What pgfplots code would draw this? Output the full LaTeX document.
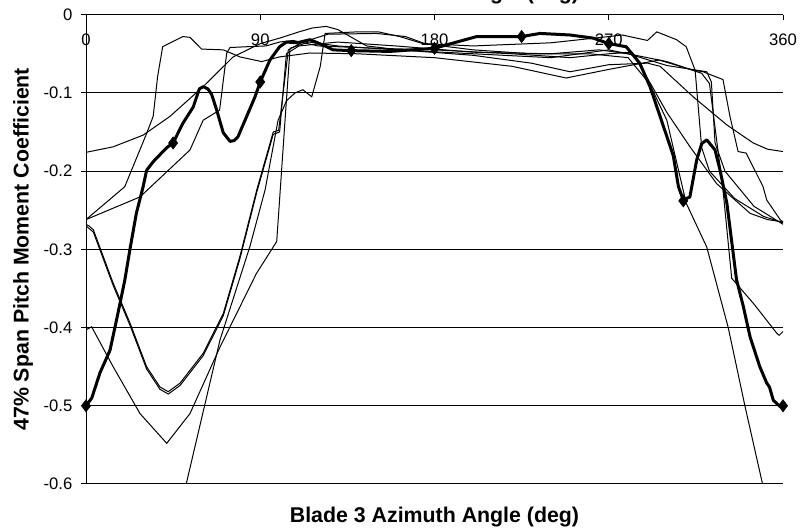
\documentclass[border=0pt]{standalone}
\usepackage{fontspec}
\setmainfont{Liberation Sans}
\usepackage{pgfplots}
\pgfplotsset{compat=1.18}
\begin{document}
\begin{tikzpicture}
\begin{axis}[
  scale only axis,
  width=522.75pt, height=352pt,
  xmin=0, xmax=360, ymin=-0.6, ymax=0,
  axis x line*=top, axis y line*=left,
  axis line style={-, line width=0.75pt},
  xtick={0,90,180,270,360},
  xticklabels={0,90,180,270,360},
  ytick={-0.6,-0.5,-0.4,-0.3,-0.2,-0.1,0},
  yticklabels={-0.6,-0.5,-0.4,-0.3,-0.2,-0.1,0},
  xtick align=inside, ytick align=outside,
  major tick length=3.75pt,
  tick style={black, line width=0.75pt},
  ymajorgrids, grid style={black, line width=0.75pt},
  tick label style={font=\fontsize{12.5}{14}\selectfont},
  xticklabel style={anchor=north, yshift=-10.5pt},
  yticklabel style={xshift=-3pt},
  xlabel={Blade 3 Azimuth Angle (deg)},
  xlabel style={at={(axis description cs:0.5,0)}, anchor=center, yshift=-24.75pt,
    font=\bfseries\fontsize{16}{19}\selectfont},
  ylabel={47\% Span Pitch Moment Coefficient},
  ylabel style={at={(axis description cs:-0.0904,0.5)}, anchor=center,
    font=\bfseries\fontsize{16}{19}\selectfont},
]
% curve A
\addplot[black, line width=0.75pt] coordinates {
(0,-0.176) (14,-0.169) (29.5,-0.154) (43.4,-0.13) (60.5,-0.092) (76,-0.054)
(90,-0.037) (100,-0.03) (110,-0.022) (117,-0.017) (124,-0.015) (130,-0.019)
(135,-0.026) (145,-0.04) (162,-0.045) (200,-0.052) (230,-0.062) (250,-0.073)
(270,-0.064) (290,-0.062) (296.5,-0.066) (313.6,-0.105) (331,-0.141)
(344.6,-0.164) (352,-0.172) (360,-0.175)};
% curve B1
\addplot[black, line width=0.75pt] coordinates {
(0,-0.262) (20,-0.22) (31.3,-0.152) (34.7,-0.13) (37,-0.079) (39.6,-0.041)
(50,-0.028) (53.7,-0.029) (59.7,-0.044) (70.9,-0.045) (79.5,-0.054)
(90.7,-0.06) (100,-0.054) (115.7,-0.049) (140,-0.05) (180,-0.055)
(220,-0.066) (248,-0.081) (270,-0.07) (296,-0.058) (313.6,-0.071)
(318.7,-0.073) (329,-0.083) (332.6,-0.13) (336.8,-0.175) (341,-0.177)
(349.7,-0.22) (351.6,-0.237) (358.5,-0.262) (360,-0.265)};
% curve B2
\addplot[black, line width=0.75pt] coordinates {
(0,-0.262) (27.9,-0.233) (53.7,-0.173) (60.5,-0.135) (69,-0.122)
(72.7,-0.049) (74.4,-0.042) (83,-0.041) (93,-0.04) (100,-0.035)
(107,-0.033) (120,-0.04) (150,-0.043) (180,-0.045) (220,-0.05)
(250,-0.055) (270,-0.05) (282,-0.048) (292,-0.09) (300,-0.125)
(312,-0.169) (325.7,-0.216) (343,-0.254) (352,-0.262) (360,-0.265)};
% curve C1
\addplot[black, line width=0.75pt] coordinates {
(0,-0.268) (1.5,-0.27) (3.8,-0.275) (14,-0.343) (22.7,-0.394) (31.3,-0.45)
(38.2,-0.476) (42.5,-0.482) (48.6,-0.471) (60.5,-0.433) (70.9,-0.382)
(79.5,-0.309) (88.2,-0.224) (96.7,-0.15) (99.5,-0.148) (104.5,-0.045)
(112,-0.035) (125,-0.025) (150,-0.024) (165,-0.028) (175,-0.037)
(200,-0.04) (240,-0.036) (270,-0.028) (277,-0.026) (290,-0.033)
(294.8,-0.022) (305,-0.032) (310,-0.041) (314.6,-0.071) (318,-0.17)
(322,-0.2) (335,-0.235) (350,-0.258) (360,-0.266)};
% curve C2
\addplot[black, line width=0.75pt] coordinates {
(0,-0.27) (3.8,-0.278) (14,-0.346) (22.7,-0.397) (31.3,-0.453)
(38.2,-0.479) (42.5,-0.485) (48.6,-0.474) (60.5,-0.436) (70.9,-0.385)
(79.5,-0.312) (88.2,-0.227) (96.7,-0.153) (100,-0.15) (103.5,-0.05)
(110,-0.04) (130,-0.035) (160,-0.04) (200,-0.048) (240,-0.05)
(265,-0.045) (280,-0.05) (300,-0.065) (320.6,-0.073) (323,-0.086)
(324.9,-0.164) (330,-0.2) (345,-0.245) (360,-0.268)};
% curve D
\addplot[black, line width=0.75pt] coordinates {
(0,-0.403) (2.9,-0.399) (14,-0.45) (27.9,-0.51) (41.7,-0.548) (53.7,-0.51)
(69.2,-0.425) (88,-0.331) (98.5,-0.29) (102.8,-0.135) (105.4,-0.043)
(115,-0.035) (130,-0.04) (160,-0.045) (200,-0.05) (240,-0.055)
(270,-0.045) (300,-0.06) (318,-0.075) (322,-0.088) (329,-0.224)
(333.5,-0.337) (345,-0.37) (356.7,-0.407) (358,-0.41) (360,-0.405)};
% curve E
\addplot[black, line width=0.75pt] coordinates {
(0,-1.09) (51,-0.608) (69.2,-0.416) (84.7,-0.296) (92.5,-0.224)
(99.2,-0.135) (103.6,-0.11) (108,-0.1) (112,-0.096) (116.6,-0.105)
(121,-0.066) (123.5,-0.024) (140,-0.022) (151,-0.022) (162,-0.028)
(174,-0.037) (200,-0.045) (230,-0.05) (260,-0.05) (280,-0.055)
(291,-0.088) (300,-0.135) (310,-0.241) (320.6,-0.297) (331.7,-0.4)
(340.4,-0.501) (349.8,-0.604) (360,-0.72)};
% thick measured curve
\addplot[black, line width=2.25pt, line join=round] coordinates {
(0,-0.5) (3,-0.49) (7.2,-0.458) (12.4,-0.429) (15.8,-0.39) (20,-0.34)
(22.7,-0.30) (26,-0.254) (29.5,-0.22) (31.3,-0.199) (34.7,-0.188)
(41.7,-0.17) (45,-0.164) (50,-0.139) (55.4,-0.118) (58.5,-0.095)
(60.5,-0.092) (63,-0.095) (64.9,-0.102) (67.5,-0.122) (70.9,-0.151)
(74.4,-0.162) (76.5,-0.161) (78.5,-0.156) (83,-0.13) (87.3,-0.105)
(90,-0.086) (95,-0.058) (100,-0.041) (103.6,-0.035) (109,-0.036)
(115.7,-0.032) (122.6,-0.039) (127.6,-0.045) (137,-0.046) (157,-0.047)
(180,-0.043) (191.5,-0.035) (201.8,-0.028) (225,-0.028) (234.5,-0.024)
(250,-0.026) (262,-0.03) (270,-0.037) (279,-0.041) (286,-0.062)
(291.3,-0.092) (296.5,-0.13) (303.3,-0.18) (306,-0.22) (308.5,-0.237)
(311.9,-0.233) (315.4,-0.186) (318,-0.165) (320.6,-0.16) (324.9,-0.173)
(327.5,-0.199) (331,-0.241) (333.5,-0.29) (336,-0.339) (339.5,-0.373)
(343,-0.412) (348,-0.45) (351.6,-0.471) (353,-0.476) (355,-0.493)
(358.5,-0.501) (360,-0.5)};
\addplot[black, only marks, mark=diamond*, mark size=4.6pt] coordinates {
(0,-0.5) (45,-0.164) (90,-0.086) (137,-0.046) (180,-0.043) (225,-0.028)
(270,-0.037) (308.5,-0.238) (360,-0.5)};
\coordinate (sw) at (rel axis cs:0,0);
\coordinate (ne) at (rel axis cs:1,1);
\coordinate (tt) at (rel axis cs:0.5,1);
\end{axis}
\node[anchor=base, yshift=11.6pt, font=\bfseries\fontsize{16}{19}\selectfont] at (tt)
  {Blade 1 Azimuth Angle (deg)};
\pgfresetboundingbox
\path[use as bounding box] ([xshift=-64.5pt,yshift=-36pt]sw) rectangle ([xshift=13.5pt,yshift=11pt]ne);
\end{tikzpicture}
\end{document}
